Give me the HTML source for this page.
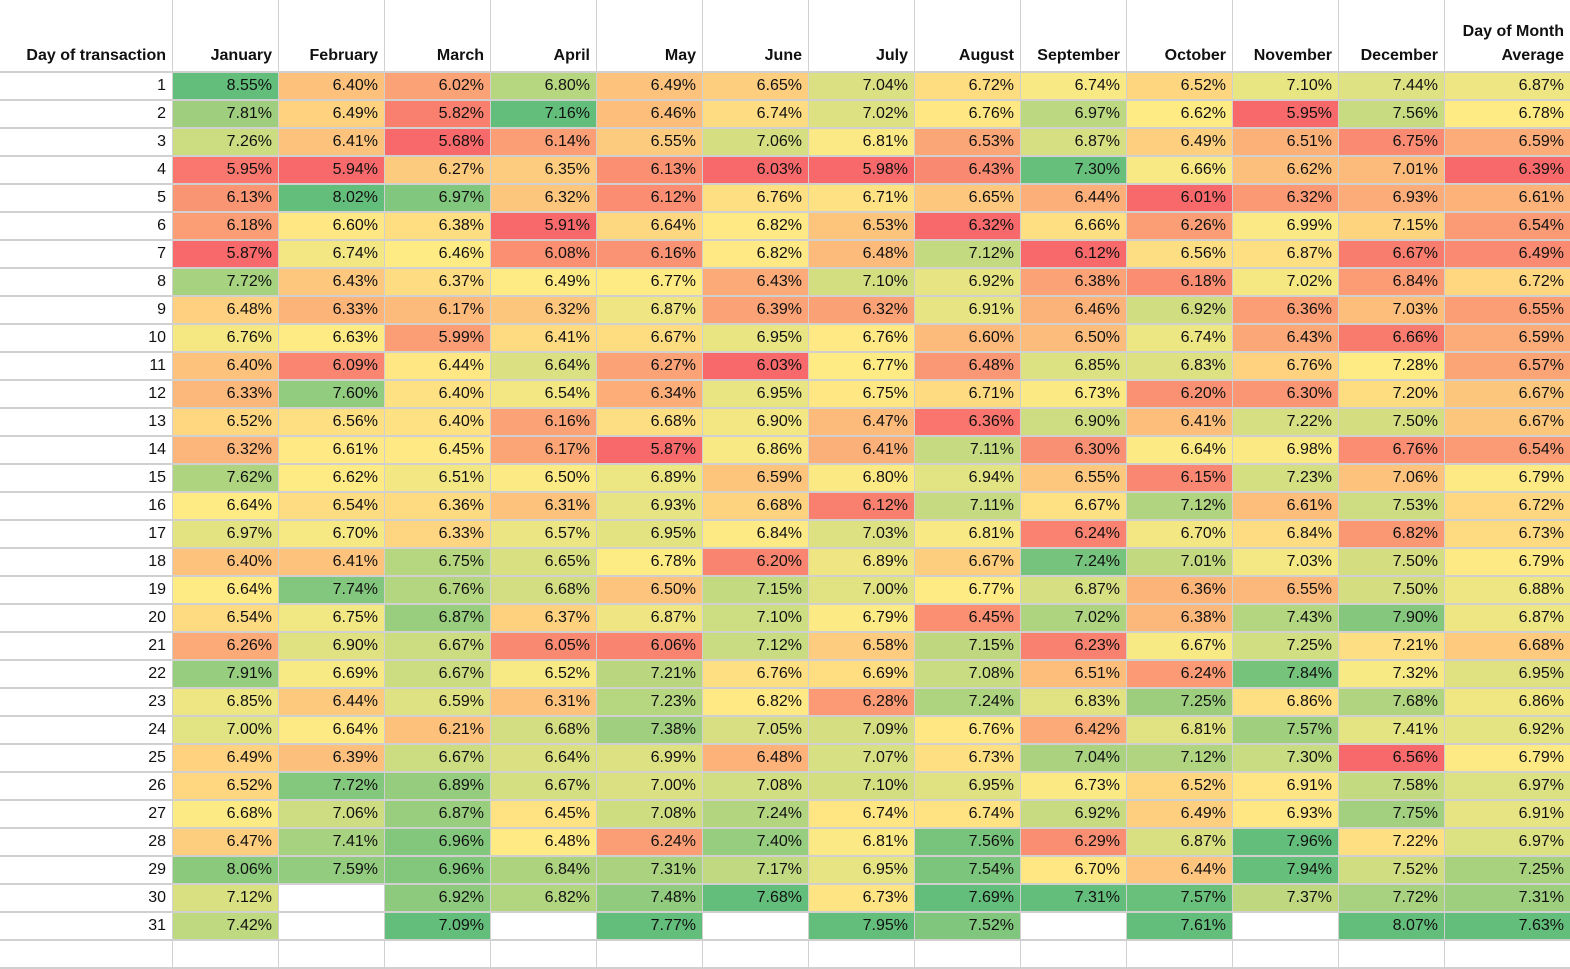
<!DOCTYPE html>
<html><head><meta charset="utf-8">
<style>
body{margin:0;width:1570px;height:968px;overflow:hidden;background:#fff;font-family:"Liberation Sans",sans-serif;}
#t{position:relative;width:1570px;height:968px;}
.c{position:absolute;box-sizing:border-box;text-align:right;padding-right:6px;font-size:16px;color:#111;line-height:28px;}
.h{position:absolute;box-sizing:border-box;text-align:right;padding-right:6px;font-size:16px;font-weight:bold;color:#111;line-height:24px;}
.vl{position:absolute;top:0;width:1px;height:968px;background:#d0d0d0;}
.hl{position:absolute;left:0;width:1570px;height:2px;background:#d0d0d0;}
</style></head><body>
<div id="t"></div>
<script>
const months=["January","February","March","April","May","June","July","August","September","October","November","December","Day of Month Average"];
const jan=[8.55,7.81,7.26,5.95,6.13,6.18,5.87,7.72,6.48,6.76,6.40,6.33,6.52,6.32,7.62,6.64,6.97,6.40,6.64,6.54,6.26,7.91,6.85,7.00,6.49,6.52,6.68,6.47,8.06,7.12,7.42];
const feb=[6.40,6.49,6.41,5.94,8.02,6.60,6.74,6.43,6.33,6.63,6.09,7.60,6.56,6.61,6.62,6.54,6.70,6.41,7.74,6.75,6.90,6.69,6.44,6.64,6.39,7.72,7.06,7.41,7.59,null,null];
const mar=[6.02,5.82,5.68,6.27,6.97,6.38,6.46,6.37,6.17,5.99,6.44,6.40,6.40,6.45,6.51,6.36,6.33,6.75,6.76,6.87,6.67,6.67,6.59,6.21,6.67,6.89,6.87,6.96,6.96,6.92,7.09];
const apr=[6.80,7.16,6.14,6.35,6.32,5.91,6.08,6.49,6.32,6.41,6.64,6.54,6.16,6.17,6.50,6.31,6.57,6.65,6.68,6.37,6.05,6.52,6.31,6.68,6.64,6.67,6.45,6.48,6.84,6.82,null];
const may=[6.49,6.46,6.55,6.13,6.12,6.64,6.16,6.77,6.87,6.67,6.27,6.34,6.68,5.87,6.89,6.93,6.95,6.78,6.50,6.87,6.06,7.21,7.23,7.38,6.99,7.00,7.08,6.24,7.31,7.48,7.77];
const jun=[6.65,6.74,7.06,6.03,6.76,6.82,6.82,6.43,6.39,6.95,6.03,6.95,6.90,6.86,6.59,6.68,6.84,6.20,7.15,7.10,7.12,6.76,6.82,7.05,6.48,7.08,7.24,7.40,7.17,7.68,null];
const jul=[7.04,7.02,6.81,5.98,6.71,6.53,6.48,7.10,6.32,6.76,6.77,6.75,6.47,6.41,6.80,6.12,7.03,6.89,7.00,6.79,6.58,6.69,6.28,7.09,7.07,7.10,6.74,6.81,6.95,6.73,7.95];
const aug=[6.72,6.76,6.53,6.43,6.65,6.32,7.12,6.92,6.91,6.60,6.48,6.71,6.36,7.11,6.94,7.11,6.81,6.67,6.77,6.45,7.15,7.08,7.24,6.76,6.73,6.95,6.74,7.56,7.54,7.69,7.52];
const sep=[6.74,6.97,6.87,7.30,6.44,6.66,6.12,6.38,6.46,6.50,6.85,6.73,6.90,6.30,6.55,6.67,6.24,7.24,6.87,7.02,6.23,6.51,6.83,6.42,7.04,6.73,6.92,6.29,6.70,7.31,null];
const oct=[6.52,6.62,6.49,6.66,6.01,6.26,6.56,6.18,6.92,6.74,6.83,6.20,6.41,6.64,6.15,7.12,6.70,7.01,6.36,6.38,6.67,6.24,7.25,6.81,7.12,6.52,6.49,6.87,6.44,7.57,7.61];
const nov=[7.10,5.95,6.51,6.62,6.32,6.99,6.87,7.02,6.36,6.43,6.76,6.30,7.22,6.98,7.23,6.61,6.84,7.03,6.55,7.43,7.25,7.84,6.86,7.57,7.30,6.91,6.93,7.96,7.94,7.37,null];
const dec=[7.44,7.56,6.75,7.01,6.93,7.15,6.67,6.84,7.03,6.66,7.28,7.20,7.50,6.76,7.06,7.53,6.82,7.50,7.50,7.90,7.21,7.32,7.68,7.41,6.56,7.58,7.75,7.22,7.52,7.72,8.07];
const avg=[6.87,6.78,6.59,6.39,6.61,6.54,6.49,6.72,6.55,6.59,6.57,6.67,6.67,6.54,6.79,6.72,6.73,6.79,6.88,6.87,6.68,6.95,6.86,6.92,6.79,6.97,6.91,6.97,7.25,7.31,7.63];
const series=[jan,feb,mar,apr,may,jun,jul,aug,sep,oct,nov,dec,avg];

const t=document.getElementById('t');
const firstW=172,colW=106,headH=72,rowH=28;
function colX(i){return firstW+i*colW;}
function rowY(r){return headH+r*rowH;}
const LO=[248,105,107],MID=[255,235,132],HI=[99,190,123];
function mix(a,b,f){return 'rgb('+a.map((v,i)=>Math.round(v+(b[i]-v)*f)).join(',')+')';}
function colorFor(v,arr){
  const s=arr.filter(x=>x!=null).sort((a,b)=>a-b);
  const mn=s[0],mx=s[s.length-1];
  const p=(s.length-1)*0.5,lo=Math.floor(p),med=s[lo]+(s[Math.ceil(p)]-s[lo])*(p-lo);
  if(v<=med)return mix(LO,MID,med>mn?(v-mn)/(med-mn):1);
  return mix(MID,HI,mx>med?(v-med)/(mx-med):1);
}
// header
let h=document.createElement('div');h.className='h';


h.style.cssText='left:0;top:44px;width:'+firstW+'px;';h.textContent='Day of transaction';t.appendChild(h);
months.forEach((m,i)=>{
  const d=document.createElement('div');d.className='h';
  
  
  const w=i==12?126:colW;
  if(i==12){d.style.cssText='left:'+colX(i)+'px;top:20px;width:'+w+'px;';d.innerHTML='Day of Month<br>Average';}
  else{d.style.cssText='left:'+colX(i)+'px;top:44px;width:'+w+'px;';d.textContent=m;}
  t.appendChild(d);
});
for(let r=0;r<31;r++){
  const d=document.createElement('div');d.className='c';
  
  
  d.style.cssText='left:0;top:'+rowY(r)+'px;width:'+firstW+'px;height:'+rowH+'px;';
  d.textContent=r+1;t.appendChild(d);
  series.forEach((arr,i)=>{
    const v=arr[r];if(v==null)return;
    const c=document.createElement('div');c.className='c';
    
    
    const w=i==12?126:colW;
    c.style.cssText='left:'+colX(i)+'px;top:'+rowY(r)+'px;width:'+w+'px;height:'+rowH+'px;background:'+colorFor(v,arr)+';';
    c.textContent=v.toFixed(2)+'%';t.appendChild(c);
  });
}
for(let r=0;r<=32;r++){
  const l=document.createElement('div');l.className='hl';
  
  
  l.style.top=(rowY(r)-1)+'px';t.appendChild(l);
}
for(let i=0;i<13;i++){
  const l=document.createElement('div');l.className='vl';
  
  
  l.style.left=colX(i)+'px';t.appendChild(l);
}
</script>
</body></html>
